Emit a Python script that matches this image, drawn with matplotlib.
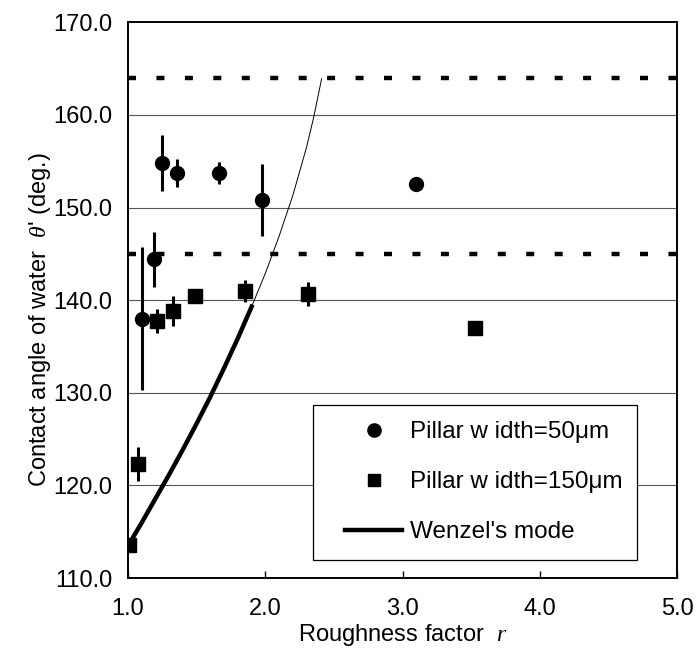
import matplotlib

matplotlib.use("Agg")
import matplotlib.pyplot as plt
from matplotlib.lines import Line2D
from matplotlib.patches import Rectangle

plt.rcParams["font.family"] = ["Liberation Sans", "DejaVu Sans"]
plt.rcParams["mathtext.fontset"] = "custom"
plt.rcParams["mathtext.it"] = "Liberation Serif:italic"

# Pillar width = 50 um
r50 = [1.10, 1.19, 1.245, 1.36, 1.66, 1.975, 3.10]
theta50 = [138.0, 144.4, 154.8, 153.7, 153.7, 150.8, 152.5]
err50 = [7.7, 3.0, 3.0, 1.5, 1.2, 3.9, 0.0]

# Pillar width = 150 um
r150 = [1.01, 1.07, 1.21, 1.325, 1.49, 1.85, 2.31, 3.53]
theta150 = [113.6, 122.3, 137.8, 138.8, 140.5, 141.0, 140.7, 137.0]
err150 = [0.0, 1.8, 1.3, 1.6, 0.0, 1.2, 1.3, 0.0]

# Wenzel's mode
r_wenzel_thick = [1.0, 1.1, 1.2, 1.3, 1.4, 1.5, 1.6, 1.7, 1.8, 1.9]
theta_wenzel_thick = [113.5, 116.0, 118.6, 121.2, 123.9, 126.7, 129.6, 132.7, 135.9, 139.3]
r_wenzel_thin = [1.9, 2.0, 2.1, 2.2, 2.3, 2.35, 2.41]
theta_wenzel_thin = [139.3, 142.9, 146.9, 151.3, 156.5, 159.6, 163.9]

# horizontal reference lines
ref_lines = [164.0, 145.0]

x_ticks = [1.0, 2.0, 3.0, 4.0, 5.0]
y_ticks = [110.0, 120.0, 130.0, 140.0, 150.0, 160.0, 170.0]

fs = 17

fig = plt.figure(figsize=(6.96, 6.54), dpi=100)
ax = fig.add_axes([0.184, 0.116, 0.789, 0.850])

for y in y_ticks[1:-1]:
    ax.axhline(y, color="#555555", lw=0.8, zorder=1)

for y in ref_lines:
    ax.axhline(y, color="black", lw=3.2, linestyle=(0, (1.8, 4.6)), zorder=2)

ax.plot(r_wenzel_thick, theta_wenzel_thick, color="black", lw=3.2, zorder=3)
ax.plot(r_wenzel_thin, theta_wenzel_thin, color="black", lw=0.7, zorder=3)

ax.errorbar(r50, theta50, yerr=err50, fmt="o", color="black", ms=10,
            elinewidth=2.2, capsize=0, zorder=4)
ax.errorbar(r150, theta150, yerr=err150, fmt="s", color="black", ms=9.5,
            elinewidth=2.2, capsize=0, zorder=4)

ax.set_xlim(1.0, 5.0)
ax.set_ylim(110.0, 170.0)
ax.set_xticks(x_ticks)
ax.set_yticks(y_ticks)
ax.set_xticklabels([f"{v:.1f}" for v in x_ticks])
ax.set_yticklabels([f"{v:.1f}" for v in y_ticks])
ax.tick_params(axis="x", direction="in", labelsize=fs, width=1, length=5, pad=14)
ax.tick_params(axis="y", direction="in", labelsize=fs, length=0, pad=11.5)

for s in ax.spines.values():
    s.set_linewidth(1.4)

ax.set_xlabel("Roughness factor  $r$", fontsize=fs)
ax.xaxis.set_label_coords(0.5, -0.079)
ax.set_ylabel("Contact angle of water  $\\theta$' (deg.)", fontsize=fs)
ax.yaxis.set_label_coords(-0.137, 0.464)

# legend frame drawn as its own box
ax.add_patch(Rectangle((0.337, 0.032), 0.590, 0.279, transform=ax.transAxes,
                       facecolor="white", edgecolor="black", lw=0.9, zorder=5))

handles = [
    Line2D([], [], marker="o", ls="none", color="black", ms=9.5),
    Line2D([], [], marker="s", ls="none", color="black", ms=8.5),
    Line2D([], [], color="black", lw=3.2),
]
labels = ["Pillar w idth=50\u03bcm", "Pillar w idth=150\u03bcm", "Wenzel's mode"]
leg = ax.legend(handles, labels, loc="upper left", bbox_to_anchor=(0.395, 0.282),
                fontsize=17.5, frameon=False, borderpad=0, borderaxespad=0,
                labelspacing=1.15, handlelength=2.35, handletextpad=0.33)
leg.set_zorder(6)

fig.savefig("out.png", dpi=100)
